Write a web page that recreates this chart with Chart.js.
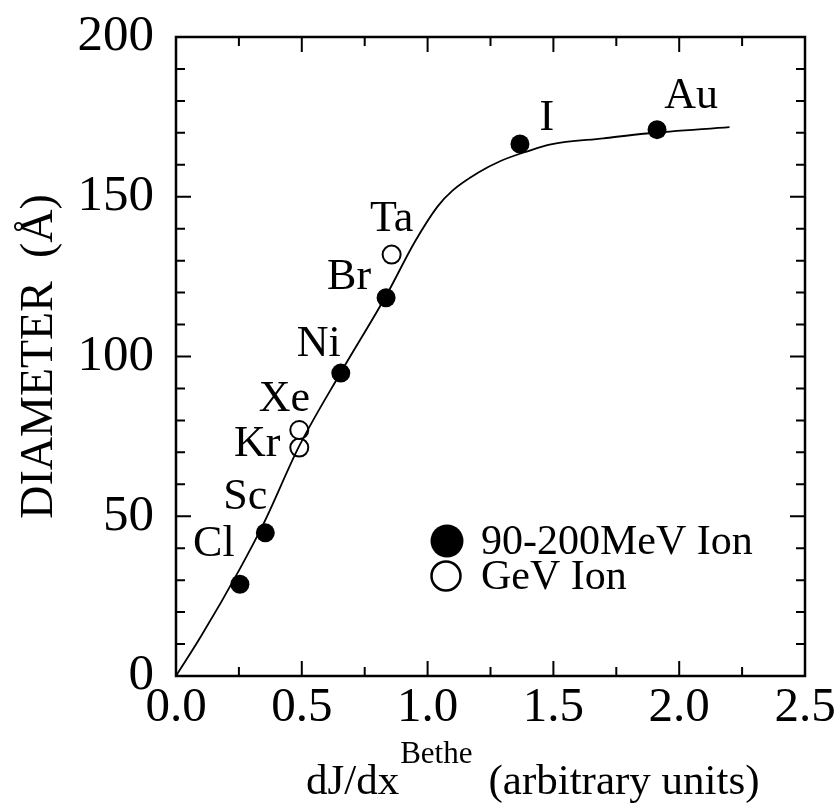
<!DOCTYPE html>
<html>
<head>
<meta charset="utf-8">
<title>Track diameter vs dJ/dx</title>
<script src="https://cdn.jsdelivr.net/npm/chart.js@4.4.1/dist/chart.umd.min.js"></script>
<style>
  html, body { margin: 0; padding: 0; background: #fff; }
  canvas { display: block; }
</style>
</head>
<body>
<canvas id="chart" width="839" height="810"></canvas>
<script>
// ====== DATA ======
// fitted curve through the measurements
const curveX = [0, 0.10, 0.25, 0.35, 0.49, 0.655, 0.835, 0.95, 1.04, 1.10, 1.20, 1.29, 1.40, 1.49, 1.70, 1.87, 2.20];
const curveY = [0, 12.5, 33, 48, 72, 95, 119, 136, 147, 152, 157.5, 161.2, 164.3, 166.4, 168.3, 169.8, 171.8];

// 90-200 MeV ions (filled)
const heavyIons = ['Cl', 'Sc', 'Ni', 'Br', 'I', 'Au'];
const heavyX    = [0.254, 0.355, 0.655, 0.835, 1.367, 1.912];
const heavyY    = [28.7, 44.8, 94.8, 118.4, 166.5, 171.0];

// GeV ions (open)
const gevIons = ['Kr', 'Xe', 'Ta'];
const gevX    = [0.49, 0.49, 0.857];
const gevY    = [71.5, 77.0, 131.9];

// axis ticks
const xTicks = [0, 0.5, 1.0, 1.5, 2.0, 2.5];
const yTicks = [0, 50, 100, 150, 200];

// ====== STYLE ======
const FONT = '"Liberation Serif", "Times New Roman", serif';
// label offset from its marker, px
const labelShift = {
  Cl: [-26, -40], Sc: [-20, -35], Ni: [-22, -29], Br: [-37, -20],
  I: [27, -26], Au: [34, -33], Kr: [-42, -3], Xe: [-15, -31], Ta: [0, -35]
};

const toXY = (xs, ys) => xs.map((x, i) => ({ x, y: ys[i] }));

// inward ticks on all four sides + frame
const framePlugin = {
  id: 'frame',
  afterDraw(chart) {
    const { ctx, chartArea: a, scales: { x, y } } = chart;
    ctx.save();
    ctx.strokeStyle = '#000';
    ctx.lineWidth = 2;
    for (let v = 0; v <= 2.5001; v += 0.25) {
      const px = x.getPixelForValue(v);
      const len = Math.abs(v / 0.5 - Math.round(v / 0.5)) < 1e-6 ? 15 : 9;
      ctx.beginPath();
      ctx.moveTo(px, a.bottom); ctx.lineTo(px, a.bottom - len);
      ctx.moveTo(px, a.top);    ctx.lineTo(px, a.top + len);
      ctx.stroke();
    }
    for (let v = 0; v <= 200; v += 10) {
      const py = y.getPixelForValue(v);
      const len = v % 50 === 0 ? 15 : 9;
      ctx.beginPath();
      ctx.moveTo(a.left, py);  ctx.lineTo(a.left + len, py);
      ctx.moveTo(a.right, py); ctx.lineTo(a.right - len, py);
      ctx.stroke();
    }
    ctx.lineWidth = 2.5;
    ctx.strokeRect(a.left, a.top, a.right - a.left, a.bottom - a.top);
    ctx.restore();
  }
};

// element names beside the markers
const namesPlugin = {
  id: 'names',
  afterDatasetsDraw(chart) {
    const { ctx, scales: { x, y } } = chart;
    ctx.save();
    ctx.fillStyle = '#000';
    ctx.font = '44px ' + FONT;
    ctx.textAlign = 'center';
    ctx.textBaseline = 'middle';
    const put = (names, xs, ys) => names.forEach((n, i) => {
      const [dx, dy] = labelShift[n];
      ctx.fillText(n, x.getPixelForValue(xs[i]) + dx, y.getPixelForValue(ys[i]) + dy);
    });
    put(heavyIons, heavyX, heavyY);
    put(gevIons, gevX, gevY);
    ctx.restore();
  }
};

// legend box inside the plot + x-axis title with superscript
const textPlugin = {
  id: 'texts',
  afterDraw(chart) {
    const { ctx } = chart;
    const sets = chart.data.datasets;
    ctx.save();
    ctx.fillStyle = '#000';
    ctx.strokeStyle = '#000';
    ctx.textBaseline = 'middle';
    ctx.font = '42px ' + FONT;

    ctx.beginPath();
    ctx.arc(447, 541, 16.5, 0, Math.PI * 2);
    ctx.fill();
    ctx.fillText(sets[1].label, 481, 543);

    ctx.lineWidth = 2.5;
    ctx.beginPath();
    ctx.arc(446, 576, 14.5, 0, Math.PI * 2);
    ctx.stroke();
    ctx.fillText(sets[2].label, 481, 578);

    // dJ/dx^Bethe (arbitrary units)
    ctx.textBaseline = 'alphabetic';
    ctx.textAlign = 'left';
    ctx.font = '43px ' + FONT;
    let px = 306;
    const base = 794;
    ctx.fillText('dJ/dx', px, base);
    px += ctx.measureText('dJ/dx').width + 1;
    ctx.font = '31px ' + FONT;
    ctx.fillText('Bethe', px, base - 31);
    px += ctx.measureText('Bethe').width + 16;
    ctx.font = '43px ' + FONT;
    ctx.fillText('(arbitrary units)', px, base);
    ctx.restore();
  }
};

new Chart(document.getElementById('chart'), {
  type: 'scatter',
  data: {
    datasets: [
      {
        type: 'line',
        label: 'fit',
        data: toXY(curveX, curveY),
        borderColor: '#000',
        borderWidth: 1.8,
        pointRadius: 0,
        fill: false,
        cubicInterpolationMode: 'monotone'
      },
      {
        label: '90-200MeV Ion',
        data: toXY(heavyX, heavyY),
        pointRadius: 9.5,
        pointBackgroundColor: '#000',
        pointBorderColor: '#000',
        pointBorderWidth: 0
      },
      {
        label: 'GeV Ion',
        data: toXY(gevX, gevY),
        pointRadius: 9,
        pointBackgroundColor: '#fff',
        pointBorderColor: '#000',
        pointBorderWidth: 2
      }
    ]
  },
  options: {
    responsive: false,
    animation: false,
    layout: { padding: { top: 37, right: 34, left: 0, bottom: 0 } },
    plugins: { legend: { display: false }, tooltip: { enabled: false } },
    scales: {
      x: {
        type: 'linear', min: 0, max: 2.5,
        afterBuildTicks: s => { s.ticks = xTicks.map(v => ({ value: v })); },
        ticks: {
          color: '#000', padding: 3, maxRotation: 0,
          font: { family: FONT, size: 49 },
          callback: v => v.toFixed(1)
        },
        grid: { display: false, drawTicks: false },
        border: { display: false },
        afterFit: s => { s.height = 134; s.paddingLeft = 0; s.paddingRight = 0; }
      },
      y: {
        min: 0, max: 200,
        afterBuildTicks: s => { s.ticks = yTicks.map(v => ({ value: v })); },
        ticks: {
          color: '#000', padding: 22,
          font: { family: FONT, size: 51 }
        },
        grid: { display: false, drawTicks: false },
        border: { display: false },
        title: {
          display: true, text: 'DIAMETER  (Å)', color: '#000',
          font: { family: FONT, size: 46 },
          padding: { top: 12, bottom: 0 }
        },
        afterFit: s => { s.width = 176; s.paddingTop = 0; s.paddingBottom = 0; }
      }
    }
  },
  plugins: [framePlugin, namesPlugin, textPlugin]
});
</script>
</body>
</html>
